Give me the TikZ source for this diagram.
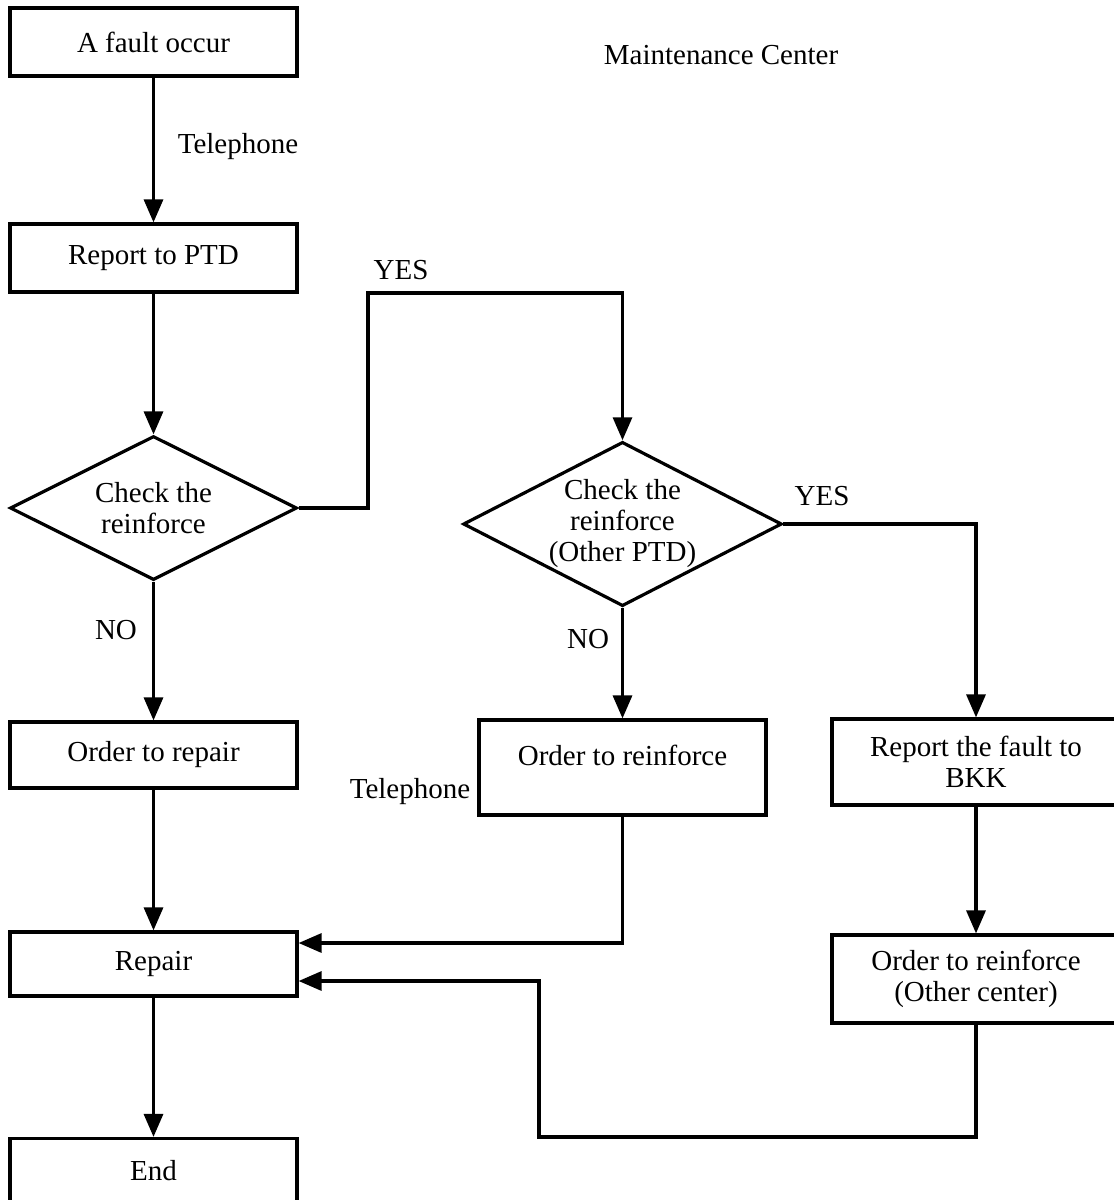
\documentclass[tikz,border=0pt]{standalone}
\usepackage{fontspec}
\setmainfont{Liberation Serif}
\usetikzlibrary{arrows.meta,shapes.geometric}
\begin{document}
\begin{tikzpicture}[x=1pt,y=-1pt,
  every node/.style={font=\fontsize{29}{31}\selectfont, inner sep=0pt},
  stepbox/.style={draw, line width=3.2pt, minimum width=287pt, align=center},
  decision/.style={draw, diamond, line width=3.2pt, align=center, inner sep=0pt},
  arr/.style={line width=3.2pt, -{Triangle[length=23pt,width=19pt]}}]
\useasboundingbox (0,0) rectangle (1114,1200);

% left column
\node[stepbox, minimum height=68pt] (fault) at (153.5,42) {A fault occur};
\node[stepbox, minimum height=68pt] (report) at (153.5,258) {Report to PTD};
\node[decision, minimum width=287pt, minimum height=144pt, aspect=2] (dia1) at (153.5,508) {Check the\\reinforce};
\node[stepbox, minimum height=66pt] (orepair) at (153.5,755) {Order to repair};
\node[stepbox, minimum height=64pt] (repair) at (153.5,964) {Repair};
\node[stepbox, minimum height=65pt] (end) at (153.5,1171) {End};

% middle column
\node[decision, minimum width=314pt, minimum height=162pt, aspect=1.94] (dia2) at (622.5,524) {Check the\\reinforce\\(Other PTD)};
\node[stepbox, minimum height=95pt] (oreinf) at (622.5,767.5) {};
\node (oreinftext) at (622.5,755) {Order to reinforce};

% right column
\node[stepbox, minimum width=288pt, minimum height=86pt] (bkk) at (976,762) {Report the fault to\\BKK};
\node[stepbox, minimum width=288pt, minimum height=88pt] (other) at (976,979) {Order to reinforce\\(Other center)};

% free labels
\node (title) at (721,55) {Maintenance Center};
\node (tel1) at (238,147) {Telephone};
\node (yes1) at (401,270) {YES};
\node (no1) at (116,630) {NO};
\node (yes2) at (822,496) {YES};
\node (no2) at (588,639) {NO};
\node (tel2) at (410,792) {Telephone};

% routing points
\coordinate (yesup) at (368,293);
\coordinate (loopR) at (976,1137);
\coordinate (loopL) at (539,1137);

% connectors
\draw[arr] (fault) -- (report);
\draw[arr] (report) -- (dia1.north);
\draw[arr] (dia1.south) -- (orepair);
\draw[arr] (orepair) -- (repair);
\draw[arr] (repair) -- (end);
\draw[arr] (dia1.east) -| (yesup) -| (dia2.north);
\draw[arr] (dia2.south) -- (oreinf.north);
\draw[arr] (dia2.east) -| (bkk.north);
\draw[arr] (bkk) -- (other);
\draw[arr] (oreinf.south) |- ([yshift=21pt]repair.east);
\draw[arr] (other.south) -- (loopR) -- (loopL) |- ([yshift=-17pt]repair.east);
\end{tikzpicture}
\end{document}
